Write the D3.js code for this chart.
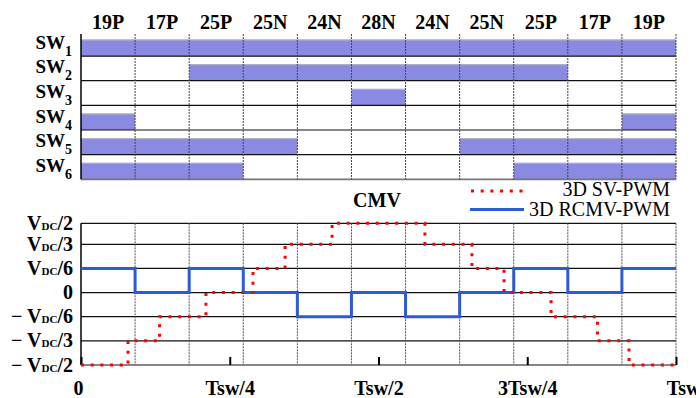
<!DOCTYPE html>
<html>
<head>
<meta charset="utf-8">
<script src="https://cdn.jsdelivr.net/npm/d3@7"></script>
<style>
  body { margin: 0; background: #fff; }
  svg { display: block; font-family: "Liberation Serif", "Times New Roman", serif; }
</style>
</head>
<body>
<svg id="chart" width="696" height="398"></svg>
<script>
const width = 696, height = 398;

// switching states per column of the period
const states = ["19P", "17P", "25P", "25N", "24N", "28N", "24N", "25N", "25P", "17P", "19P"];
const switches = ["1", "2", "3", "4", "5", "6"];
// on (1) / off (0) for each state column
const sw1 = [1, 1, 1, 1, 1, 1, 1, 1, 1, 1, 1];
const sw2 = [0, 0, 1, 1, 1, 1, 1, 1, 1, 0, 0];
const sw3 = [0, 0, 0, 0, 0, 1, 0, 0, 0, 0, 0];
const sw4 = [1, 0, 0, 0, 0, 0, 0, 0, 0, 0, 1];
const sw5 = [1, 1, 1, 1, 0, 0, 0, 1, 1, 1, 1];
const sw6 = [1, 1, 1, 0, 0, 0, 0, 0, 1, 1, 1];
const swStates = [sw1, sw2, sw3, sw4, sw5, sw6];

// CMV levels in units of Vdc/6
const cmvLevels = [-3, -2, -1, 0, 1, 2, 3];
const cmvLabels = ["−VDC/2", "−VDC/3", "−VDC/6", "0", "VDC/6", "VDC/3", "VDC/2"];
// 3D RCMV-PWM level per state column
const rcmv = [1, 0, 1, 0, -1, 0, -1, 0, 1, 0, 1];
// 3D SV-PWM: switching instants (fraction of Tsw) and levels
const svTimes = [0, 0.079, 0.132, 0.21, 0.289, 0.343, 0.422, 0.578, 0.657, 0.711, 0.79, 0.868, 0.921];
const svLevels = [-3, -2, -1, 0, 1, 2, 3, 2, 1, 0, -1, -2, -3];

const timeTicks = [0, 0.25, 0.5, 0.75, 1];
const timeLabels = ["0", "Tsw/4", "Tsw/2", "3Tsw/4", "Tsw"];

const barColor = "#8a8ae2";
const blue = "#2b5bd6";
const red = "#ff0000";

const svg = d3.select("#chart");

const x = d3.scaleLinear().domain([0, 1]).range([81, 676]);
const colEdge = i => i / states.length;

// ---------- top: switching table ----------
const row = d3.scaleBand().domain(switches).range([31.4, 179.3]);
const barH = 16.5;
const tableTop = 34;

// merge consecutive "on" columns into runs
function runs(arr) {
  const out = [];
  let start = null;
  arr.forEach((v, i) => {
    if (v && start === null) start = i;
    if (!v && start !== null) { out.push([start, i]); start = null; }
  });
  if (start !== null) out.push([start, arr.length]);
  return out;
}

const barData = [];
swStates.forEach((s, k) => runs(s).forEach(r => barData.push({ sw: switches[k], a: r[0], b: r[1] })));

const bars = svg.append("g");
bars.selectAll("rect")
  .data(barData)
  .join("rect")
  .attr("x", d => x(colEdge(d.a)))
  .attr("width", d => x(colEdge(d.b)) - x(colEdge(d.a)))
  .attr("y", d => row(d.sw) + row.bandwidth() - barH)
  .attr("height", barH)
  .attr("fill", barColor);
bars.selectAll("line")
  .data(barData)
  .join("line")
  .attr("x1", d => x(colEdge(d.a)))
  .attr("x2", d => x(colEdge(d.b)))
  .attr("y1", d => row(d.sw) + row.bandwidth() - barH + 0.5)
  .attr("y2", d => row(d.sw) + row.bandwidth() - barH + 0.5)
  .attr("stroke", "#b4b4c4")
  .attr("stroke-width", 1);

// row separators
svg.append("g").selectAll("line")
  .data(switches)
  .join("line")
  .attr("x1", x(0)).attr("x2", x(1))
  .attr("y1", d => row(d) + row.bandwidth())
  .attr("y2", d => row(d) + row.bandwidth())
  .attr("stroke", (d, i) => i === 0 ? "#444" : i === switches.length - 1 ? "#777" : "#111")
  .attr("stroke-width", (d, i) => i === 0 || i === switches.length - 1 ? 1.8 : 1.2);

// column separators
svg.append("g").selectAll("line")
  .data(d3.range(1, states.length + 1))
  .join("line")
  .attr("x1", d => x(colEdge(d))).attr("x2", d => x(colEdge(d)))
  .attr("y1", tableTop).attr("y2", row.range()[1])
  .attr("stroke", "#444")
  .attr("stroke-width", 1)
  .attr("stroke-dasharray", "2,1");
svg.append("line")
  .attr("x1", x(0)).attr("x2", x(0))
  .attr("y1", tableTop).attr("y2", row.range()[1])
  .attr("stroke", "#000").attr("stroke-width", 1.5);

// state labels
svg.append("g").selectAll("text")
  .data(states)
  .join("text")
  .attr("x", (d, i) => (x(colEdge(i)) + x(colEdge(i + 1))) / 2)
  .attr("y", 29)
  .attr("text-anchor", "middle")
  .attr("font-size", 20)
  .attr("font-weight", "bold")
  .text(d => d);

// switch labels
const swLab = svg.append("g").selectAll("text")
  .data(switches)
  .join("text")
  .attr("x", 72)
  .attr("y", d => row(d) + row.bandwidth() - 7.5)
  .attr("text-anchor", "end")
  .attr("font-weight", "bold");
swLab.append("tspan").attr("font-size", 19).text("SW");
swLab.append("tspan").attr("font-size", 14).attr("dy", 7).text(d => d);

// ---------- bottom: CMV ----------
const y = d3.scaleLinear().domain([-3, 2, 3]).range([365, 244.3, 223.3]);

const grid = svg.append("g");
grid.selectAll("line.h")
  .data(cmvLevels)
  .join("line")
  .attr("class", "h")
  .attr("x1", x(0)).attr("x2", x(1))
  .attr("y1", d => y(d)).attr("y2", d => y(d))
  .attr("stroke", "#111").attr("stroke-width", 1.2);
grid.selectAll("line.v")
  .data(d3.range(1, states.length + 1))
  .join("line")
  .attr("class", "v")
  .attr("x1", d => x(colEdge(d))).attr("x2", d => x(colEdge(d)))
  .attr("y1", y(3)).attr("y2", y(-3))
  .attr("stroke", "#555").attr("stroke-width", 1)
  .attr("stroke-dasharray", "2,1");
grid.append("line")
  .attr("x1", x(0)).attr("x2", x(0))
  .attr("y1", y(3)).attr("y2", y(-3))
  .attr("stroke", "#000").attr("stroke-width", 1.5);

// x axis
const xAxis = svg.append("g")
  .attr("transform", `translate(0,${y(-3)})`)
  .call(d3.axisBottom(x).tickValues(timeTicks).tickFormat((d, i) => timeLabels[i]).tickSize(-8).tickPadding(16));
xAxis.select(".domain").remove();
xAxis.selectAll(".tick line").attr("stroke", "#000").attr("stroke-width", 2);
xAxis.selectAll(".tick text")
  .attr("font-family", "Liberation Serif, Times New Roman, serif")
  .attr("font-size", 20).attr("font-weight", "bold").attr("fill", "#000")
  .attr("dx", (d, i) => i === 0 ? -3 : i === timeTicks.length - 1 ? 7 : 0);

// y axis
const yAxis = svg.append("g")
  .attr("transform", `translate(${x(0)},0)`)
  .call(d3.axisLeft(y).tickValues(cmvLevels).tickSize(0).tickPadding(8).tickFormat(""));
yAxis.select(".domain").remove();
yAxis.selectAll(".tick text").each(function (d, i) {
  const t = d3.select(this)
    .attr("font-family", "Liberation Serif, Times New Roman, serif")
    .attr("font-weight", "bold").attr("fill", "#000")
    .attr("dy", 6).attr("font-size", 20);
  const lab = cmvLabels[i];
  if (!lab.includes("VDC")) { t.text(lab); return; }
  const [pre, post] = lab.split("VDC");
  if (pre) t.append("tspan").text(pre + " ");
  t.append("tspan").text("V");
  t.append("tspan").attr("font-size", 11).text("DC");
  t.append("tspan").text(post);
});

// step lines
const line = d3.line()
  .x(d => x(d[0]))
  .y(d => y(d[1]))
  .curve(d3.curveStepAfter);

const svPts = svTimes.map((t, i) => [t, svLevels[i]]);
svPts.push([1, svLevels[svLevels.length - 1]]);
const rcmvPts = rcmv.map((v, i) => [colEdge(i), v]);
rcmvPts.push([1, rcmv[rcmv.length - 1]]);

svg.append("path")
  .attr("d", line(rcmvPts))
  .attr("fill", "none")
  .attr("stroke", blue)
  .attr("stroke-width", 3);

svg.append("path")
  .attr("d", line(svPts))
  .attr("fill", "none")
  .attr("stroke", red)
  .attr("stroke-width", 3)
  .attr("stroke-dasharray", "3,6.7");

// title
svg.append("text")
  .attr("x", 377).attr("y", 207)
  .attr("text-anchor", "middle")
  .attr("font-size", 20).attr("font-weight", "bold")
  .text("CMV");

// legend
const legend = svg.append("g");
legend.append("line")
  .attr("x1", 471).attr("x2", 523).attr("y1", 191).attr("y2", 191)
  .attr("stroke", red).attr("stroke-width", 3).attr("stroke-dasharray", "3,6.7");
legend.append("text")
  .attr("x", 670).attr("y", 196).attr("text-anchor", "end")
  .attr("font-size", 20).text("3D SV-PWM");
legend.append("line")
  .attr("x1", 470).attr("x2", 524).attr("y1", 209.5).attr("y2", 209.5)
  .attr("stroke", blue).attr("stroke-width", 3);
legend.append("text")
  .attr("x", 670).attr("y", 215.5).attr("text-anchor", "end")
  .attr("font-size", 20).text("3D RCMV-PWM");
</script>
</body>
</html>
